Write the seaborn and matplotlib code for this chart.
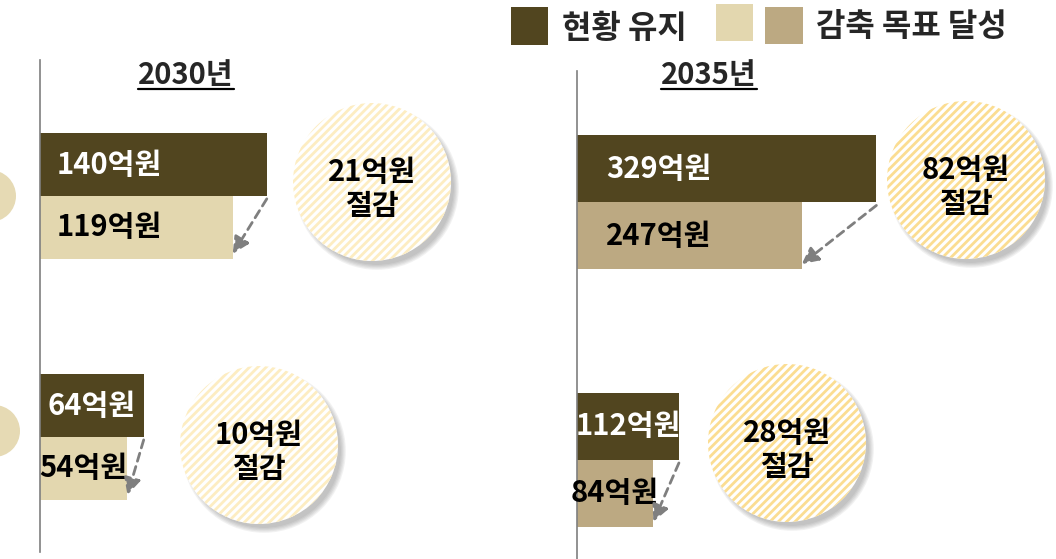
import numpy as np
import pandas as pd
import matplotlib.pyplot as plt
import seaborn as sns
from matplotlib.patches import Circle, Rectangle
from matplotlib.lines import Line2D

# ============================================
# DATA
# ============================================

groups = ["구분 1", "구분 2"]
scenarios = ["현황 유지", "감축 목표 달성"]
years = ["2030년", "2035년"]

base_2030 = [140, 64]
target_2030 = [119, 54]
savings_2030 = [21, 10]

base_2035 = [329, 112]
target_2035 = [247, 84]
savings_2035 = [82, 28]

DARK = "#51451F"
LIGHT = "#E3D7AF"
TAN = "#BCA982"
GREY = "#7F7F7F"

# ============================================
# FIGURE SETUP
# ============================================

sns.set_style("white")
plt.rcParams["font.family"] = ["Noto Sans CJK KR", "DejaVu Sans"]
plt.rcParams["hatch.linewidth"] = 2.0

W, H = 1056, 559
fig = plt.figure(figsize=(W / 100, H / 100), dpi=100)


def fx(x):
    return x / W


def fy(y):
    return 1 - y / H


def inch(x, y):
    # pixel position (from top-left) -> inches for dpi_scale_trans
    return (x / 100, (H - y) / 100)


# panel: (left px, top px, bottom px, right px, px per unit, y-limits)
panels = [
    dict(year=years[0], base=base_2030, target=target_2030, savings=savings_2030,
         color=LIGHT, rect=(40, 60, 552, 540), scale=1.62, ylim=(1.477, -0.564),
         label_off=17, title_x=186, circle_fc="#FDEDC2",
         circles=[(372, 182), (259, 445)]),
    dict(year=years[1], base=base_2035, target=target_2035, savings=savings_2035,
         color=TAN, rect=(577, 71, 559, 1056), scale=0.91, ylim=(1.385, -0.510),
         label_off=29, title_x=709, circle_fc="#FBDD92",
         circles=[(966, 180), (787, 443)]),
]

title_texts = []
for p in panels:
    left, top, bottom, right = p["rect"]
    ax = fig.add_axes([fx(left), fy(bottom), (right - left) / W, (bottom - top) / H])

    df = pd.DataFrame({
        "group": groups * 2,
        "scenario": [scenarios[0]] * 2 + [scenarios[1]] * 2,
        "value": p["base"] + p["target"],
    })
    sns.barplot(data=df, x="value", y="group", hue="scenario", hue_order=scenarios,
                palette=[DARK, p["color"]], orient="h", width=0.52, saturation=1,
                legend=False, linewidth=0, ax=ax)

    ax.set_xlim(0, (right - left) / p["scale"])
    ax.set_ylim(*p["ylim"])
    ax.set_xticks([])
    ax.set_yticks([])
    ax.set_xlabel("")
    ax.set_ylabel("")
    for s in ["top", "right", "bottom"]:
        ax.spines[s].set_visible(False)
    ax.spines["left"].set_color(GREY)
    ax.spines["left"].set_linewidth(1.2)
    ax.patch.set_alpha(0)

    # bar labels
    for bar in ax.patches:
        w = bar.get_width()
        if w <= 0:
            continue
        yc = bar.get_y() + bar.get_height() / 2
        is_dark = np.allclose(bar.get_facecolor()[:3], plt.matplotlib.colors.to_rgb(DARK))
        col = "white" if is_dark else "black"
        if w * p["scale"] > 160:
            ax.annotate(f"{w:.0f}억원", xy=(0, yc), xytext=(p["label_off"], 0),
                        textcoords="offset pixels", ha="left", va="center",
                        fontsize=21, fontweight="heavy", color=col)
        else:
            ax.text(w / 2, yc, f"{w:.0f}억원", ha="center", va="center",
                    fontsize=21, fontweight="heavy", color=col)

    # dashed arrows from current bar end to target bar end
    for i, (b, t) in enumerate(zip(p["base"], p["target"])):
        ax.annotate("", xy=(t, i + 0.24), xytext=(b, i + 0.012),
                    arrowprops=dict(arrowstyle="-|>,head_length=1.0,head_width=0.5",
                                    color=GREY, lw=2, linestyle=(0, (3, 2)),
                                    shrinkA=0, shrinkB=0))

    # savings circles
    for (cx, cy), sv in zip(p["circles"], p["savings"]):
        r = 79
        for k in range(5):
            sh = Circle(inch(cx + 5, cy + 6), (r - 2 + k * 1.2) / 100,
                        transform=fig.dpi_scale_trans, facecolor="#555555",
                        edgecolor="none", alpha=0.08)
            fig.add_artist(sh)
        fig.add_artist(Circle(inch(cx, cy), r / 100, transform=fig.dpi_scale_trans,
                              facecolor="white", edgecolor="none"))
        fig.add_artist(Circle(inch(cx, cy), r / 100, transform=fig.dpi_scale_trans,
                              facecolor="none", edgecolor=p["circle_fc"],
                              hatch="////", linewidth=0))
        fig.text(fx(cx), fy(cy + 7), f"{sv}억원\n절감", ha="center", va="center",
                 fontsize=21, fontweight="heavy", color="black", linespacing=1.2)

    # panel title
    title_texts.append(fig.text(fx(p["title_x"]), fy(75), p["year"], ha="center",
                                va="center", fontsize=21, fontweight="heavy"))

# partial markers cut off at the left edge
for cx, cy in [(-10, 196), (-6, 431)]:
    fig.add_artist(Circle(inch(cx, cy), 0.26, transform=fig.dpi_scale_trans,
                          facecolor="#E6DAB4", edgecolor="none"))

# ============================================
# LEGEND (drawn by hand at the top)
# ============================================

fig.add_artist(Rectangle((fx(511), fy(45)), 37 / W, 38 / H, transform=fig.transFigure,
                         facecolor=DARK, edgecolor="none"))
fig.text(fx(562), fy(29), scenarios[0], ha="left", va="center", fontsize=23,
         fontweight="heavy")
fig.add_artist(Rectangle((fx(716), fy(41)), 37 / W, 37 / H, transform=fig.transFigure,
                         facecolor=LIGHT, edgecolor="none"))
fig.add_artist(Rectangle((fx(765), fy(44)), 38 / W, 37 / H, transform=fig.transFigure,
                         facecolor=TAN, edgecolor="none"))
fig.text(fx(816), fy(27), scenarios[1], ha="left", va="center", fontsize=23,
         fontweight="heavy")

# underline under the year titles
fig.canvas.draw()
for t in title_texts:
    bb = t.get_window_extent()
    fig.add_artist(Line2D([bb.x0 / W, bb.x1 / W], [fy(89), fy(89)],
                          transform=fig.transFigure, color="black", lw=1.6))

plt.savefig("out.png", dpi=100)
plt.close()
